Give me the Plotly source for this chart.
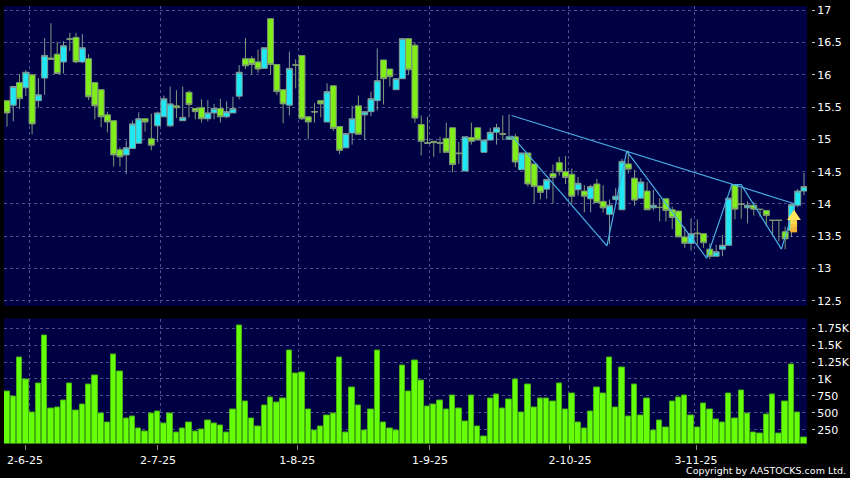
import plotly.graph_objects as go
from plotly.subplots import make_subplots

sessions = list(range(1, 129))

opens = [15.60,15.53,15.88,15.80,16.00,15.60,15.95,16.26,16.32,16.20,16.56,16.58,16.20,16.25,15.88,15.77,15.38,15.29,14.84,14.76,14.86,14.94,15.32,15.01,15.21,15.35,15.21,15.52,15.29,15.73,15.48,15.49,15.32,15.41,15.48,15.35,15.41,15.67,16.25,16.25,16.20,16.10,16.87,16.16,15.77,15.53,16.155,16.30,15.35,15.43,15.60,15.27,15.83,15.20,14.87,15.10,15.52,15.38,15.43,15.60,16.23,16.09,15.77,15.94,16.56,16.46,15.23,14.95,
14.97,14.95,15.015,15.18,14.79,14.51,15.03,15.18,14.80,14.99,15.11,15.09,15.00,15.04,14.53,14.79,14.62,14.28,14.23,14.47,14.64,14.50,14.46,14.22,14.20,14.08,14.31,14.04,13.84,14.07,13.91,14.62,14.40,14.09,14.20,13.94,13.95,14.08,13.91,13.89,13.49,13.39,13.55,13.54,13.30,13.19,13.30,13.36,14.30,14.00,13.94,13.98,13.92,13.90,13.75,13.75,13.57,13.59,13.98,14.20]
closes = [15.41,15.82,15.63,16.04,15.24,15.69,16.30,16.24,16.02,16.45,16.55,16.20,16.42,15.66,15.52,15.35,15.27,14.76,14.73,14.87,15.24,15.32,15.27,14.91,15.41,15.63,15.55,15.49,15.34,15.54,15.43,15.32,15.41,15.48,15.35,15.43,15.48,16.04,16.14,16.16,16.09,16.42,16.16,15.74,15.55,16.10,16.15,15.32,15.27,15.425,15.55,15.74,15.17,14.83,15.09,15.32,15.08,15.43,15.63,15.91,15.94,15.97,15.94,16.56,16.08,15.33,14.97,14.94,
14.95,14.94,14.80,14.61,14.78,15.04,14.97,14.99,14.99,15.11,15.18,15.08,15.04,14.65,14.79,14.31,14.27,14.18,14.38,14.41,14.50,14.41,14.12,14.32,14.12,14.27,14.02,13.94,13.98,14.12,14.66,14.54,14.06,14.34,13.91,13.98,13.945,13.90,13.79,13.49,13.39,13.54,13.54,13.40,13.19,13.26,13.36,14.09,13.92,13.995,13.98,13.92,13.915,13.82,13.745,13.745,13.46,13.99,14.20,14.27]
highs = [15.60,15.82,16.01,16.07,16.00,15.95,16.57,16.80,16.51,16.52,16.65,16.65,16.63,16.32,15.88,15.77,15.43,15.29,14.88,14.98,15.29,15.42,15.32,15.40,15.43,15.68,15.82,15.76,15.82,15.76,15.48,15.62,15.61,15.55,15.63,15.59,15.66,16.15,16.57,16.29,16.39,16.42,16.87,16.16,15.77,16.36,16.24,16.30,15.35,15.56,15.60,15.87,15.83,15.20,15.09,15.52,15.68,15.43,15.74,16.41,16.23,16.09,15.94,16.56,16.56,16.50,15.37,15.35,
14.97,15.04,15.26,15.18,14.96,15.04,15.26,15.18,14.99,15.18,15.24,15.37,15.39,15.09,14.79,14.79,14.62,14.28,14.38,14.61,14.73,14.74,14.55,14.42,14.29,14.30,14.39,14.29,14.07,14.25,14.70,14.83,14.53,14.40,14.34,14.22,14.09,14.08,13.96,13.89,13.65,13.78,13.76,13.54,13.39,13.37,13.52,14.09,14.30,14.25,14.04,14.03,13.92,13.90,13.75,13.75,13.65,13.99,14.23,14.48]
lows = [15.20,15.28,15.47,15.67,15.08,15.49,15.69,16.24,16.02,16.02,16.37,16.18,16.18,15.61,15.31,15.19,15.11,14.58,14.58,14.46,14.86,14.94,15.12,14.83,14.96,15.35,15.19,15.33,15.29,15.34,15.31,15.26,15.28,15.31,15.26,15.33,15.41,15.62,16.09,16.00,16.03,16.10,16.00,15.69,15.25,15.37,15.79,15.30,15.00,15.26,15.34,15.27,15.13,14.77,14.87,14.92,15.08,14.99,15.36,15.45,15.54,15.82,15.77,15.94,16.00,15.26,14.75,14.93,
14.73,14.79,14.80,14.49,14.62,14.51,14.92,14.99,14.80,14.99,14.92,14.99,14.99,14.57,14.53,14.27,14.01,14.07,14.08,14.01,14.44,14.31,14.00,14.13,13.87,13.87,14.02,13.87,13.38,14.05,13.91,14.47,13.97,14.09,13.91,13.90,13.73,13.73,13.61,13.49,13.32,13.28,13.37,13.32,13.145,13.19,13.19,13.36,13.76,13.77,13.70,13.82,13.80,13.66,13.50,13.42,13.30,13.49,13.95,14.135]

volumes = [823,740,1313,995,505,936,1637,568,588,686,936,539,627,921,1053,490,358,1358,1107,417,441,279,225,495,525,343,495,211,279,358,225,250,387,348,323,211,544,1793,676,417,304,603,735,657,
720,1426,1083,1102,544,245,299,456,495,1318,206,872,607,235,554,1421,358,274,245,1200,813,1269,985,593,632,691,544,764,559,378,750,299,147,710,779,559,695,990,510,921,588,720,720,672,941,
544,789,363,265,525,877,784,1323,578,1166,441,921,456,706,245,387,284,662,735,764,466,284,637,548,397,353,794,422,838,495,216,196,475,779,196,666,1220,510,132]

price_ticks = [12.5,13,13.5,14,14.5,15,15.5,16,16.5,17]
price_tick_labels = ["12.5","13","13.5","14","14.5","15","15.5","16","16.5","17"]
vol_ticks = [250,500,750,1000,1250,1500,1750]
vol_tick_labels = ["250","500","750","1K","1.25K","1.5K","1.75K"]
date_tick_pos = [3.87,25.06,47.25,68.4,90.7,110.8]
date_tick_labels = ["2-6-25","2-7-25","1-8-25","1-9-25","2-10-25","3-11-25"]
grid_pos = [4.55,25.4,47.4,68.4,90.4,110.5]

trend_x = [81.4,126.6]
trend_y = [15.37,14.0]
zig_x = [81.4,96.6,99.75,112.5,116.5,118.0,124.4,126.6]
zig_y = [15.06,13.35,14.82,13.16,14.3,14.3,13.3,14.0]

XR = [0.522,128.478]
BG = "#000044"
GRID = "#50508a"
DASH = "3px,3px"

fig = make_subplots(rows=2, cols=1, shared_xaxes=True, vertical_spacing=0.0, row_heights=[0.7,0.3])
fig.add_trace(go.Candlestick(x=sessions, open=opens, high=highs, low=lows, close=closes,
    increasing=dict(fillcolor="#1fe8f4", line=dict(color="#7f9a95", width=1)),
    decreasing=dict(fillcolor="#80ee18", line=dict(color="#7f9a75", width=1)),
    whiskerwidth=0, showlegend=False), row=1, col=1)
line = dict(color="#48aee4", width=1.2)
fig.add_trace(go.Scatter(x=trend_x, y=trend_y, mode="lines", line=line, showlegend=False), row=1, col=1)
fig.add_trace(go.Scatter(x=zig_x, y=zig_y, mode="lines", line=line, showlegend=False), row=1, col=1)
fig.add_trace(go.Bar(x=sessions, y=volumes, marker=dict(color="#66ff0a", line=dict(color="#44b010", width=1)),
    width=0.86, showlegend=False), row=2, col=1)

# Yellow alert arrow: stem shaded towards orange, then head
stem_bands = [("#ffd84a",13.75,13.69),("#fbc63e",13.69,13.63),("#f2b034",13.63,13.56)]
for c,y0,y1 in stem_bands:
    fig.add_shape(type="rect", x0=125.8, x1=126.9, y0=y0, y1=y1, xref="x", yref="y",
                  fillcolor=c, line_width=0, layer="above")
fig.add_shape(type="path", path="M 125.3 13.75 L 126.4 13.91 L 127.5 13.75 Z", xref="x", yref="y",
              fillcolor="#ffe860", line_width=0, layer="above")

fig.update_layout(
    width=850, height=478, margin=dict(l=0,r=0,t=0,b=0), autosize=False,
    paper_bgcolor="#000000", plot_bgcolor=BG,
    font=dict(family="DejaVu Sans", color="#ffffff", size=11),
    boxgap=0.05, boxgroupgap=0, bargap=0,
    xaxis=dict(domain=[4/850,807/850], range=XR, rangeslider=dict(visible=False), showticklabels=False,
               showgrid=False, zeroline=False, showline=False, ticks="", automargin=False,
               minor=dict(tickvals=grid_pos, showgrid=True, gridcolor=GRID, griddash=DASH, gridwidth=1, ticks="")),
    yaxis=dict(domain=[1-306/478,1-6/478], range=[12.42,17.066], side="right", anchor="free", position=811/850,
               tickvals=price_ticks, ticktext=price_tick_labels, ticks="outside", ticklen=3, tickcolor="#c8c8c8",
               automargin=False,
               showgrid=True, gridcolor=GRID, griddash=DASH, gridwidth=1, zeroline=False, showline=False),
    xaxis2=dict(domain=[4/850,807/850], range=XR, tickvals=date_tick_pos, ticktext=date_tick_labels,
                ticks="outside", ticklen=5, tickcolor="#888888", showgrid=False, zeroline=False, showline=False,
                automargin=False, ticklabelstandoff=1,
                minor=dict(tickvals=grid_pos, showgrid=True, gridcolor=GRID, griddash=DASH, gridwidth=1, ticks="")),
    yaxis2=dict(domain=[1-443.5/478,1-318.5/478], range=[51,1890], side="right", anchor="free", position=811/850,
                tickvals=vol_ticks, ticktext=vol_tick_labels, ticks="outside", ticklen=3, tickcolor="#c8c8c8",
                automargin=False,
                showgrid=True, gridcolor=GRID, griddash=DASH, gridwidth=1, zeroline=False, showline=False),
    annotations=[dict(text="Copyright by AASTOCKS.com Ltd.", xref="paper", yref="paper", x=848/850, y=1-470.5/478,
                      xanchor="right", yanchor="middle", showarrow=False,
                      font=dict(family="DejaVu Sans", size=9.5, color="#ffffff"))],
)
fig.write_html("out.html", config={"displayModeBar": False},
               post_script="document.documentElement.style.background='#000';document.body.style.margin='0';document.body.style.overflow='hidden';")
